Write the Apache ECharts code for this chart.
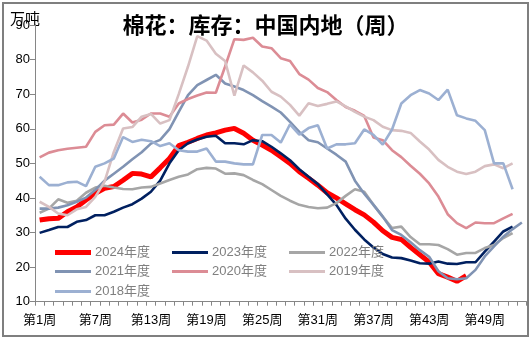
<!DOCTYPE html>
<html><head><meta charset="utf-8">
<script src="https://cdn.jsdelivr.net/npm/echarts@6/dist/echarts.min.js"></script>
<style>html,body{margin:0;padding:0;background:#fff}#c{width:531px;height:342px}</style>
</head><body><div id="c"></div>
<script>
var weeks = [];
for (var i = 1; i <= 53; i++) weeks.push('第' + i + '周');
var names = ['2024年度','2023年度','2022年度','2021年度','2020年度','2019年度','2018年度'];
var d2024 = [33.6,34.0,34.1,36,37.4,39.4,41.3,42.8,43.3,45.1,47.1,46.9,46.1,48.7,51.4,55.1,56.1,57.2,58.2,58.8,59.6,60.1,58.7,56.7,55.3,53.8,51.9,50,47.6,45.7,43.7,41.5,40,38.3,36.6,35.1,33,30.5,28.6,28,25.7,23.6,21.5,18.1,17.1,15.9,17.5];
var d2023 = [29.9,30.7,31.6,31.6,33.1,33.6,35,35,36,37.2,38.2,39.8,41.8,45,50,53.8,55.8,56.9,57.7,58,55.8,55.8,55.5,56.7,56.4,54.8,52.9,50.9,48.3,46.1,44,41,38,34,30.8,28,25.7,23.8,22.8,22.6,21.9,21.1,21,21.6,21,20.9,21.4,21.4,24.5,27.4,30.3,31.7];
var d2022 = [35.7,36.9,39.6,38.6,39.2,41.5,43,43.5,43,42.6,42.5,43,43.2,44.2,45.2,46.1,46.8,48.3,48.7,48.5,47,47.1,46.6,45.2,44,42.3,40.6,39.2,38,37.4,37,37.2,38.5,40.6,42.5,41.8,38,34.6,31.3,31.7,28.7,26.6,26.6,26.4,25.2,23.6,24.1,24.1,25.5,26.4,28.4,29.8];
var d2021 = [36.9,36.9,37.2,37.9,38.9,40.1,42.3,45,47,49,51.2,53.2,55.7,56.8,59.9,64.9,69.7,72.6,74.1,75.6,73.1,72.2,71.2,69.7,68,66.4,64.7,62,59.1,56.7,56.1,54.3,52.5,50.5,45,41.2,38,34.6,30.7,29.3,27.2,24.9,23,18.8,16.8,16.5,16.8,19.2,23.1,26,28.8,31,32.9];
var d2020 = [51.7,53.1,53.8,54.2,54.5,54.8,59.1,61,61.2,64.4,61.8,62.6,64.4,64.4,63.5,67.3,68.6,69.6,70.5,70.4,78,85.9,85.7,86.3,83.8,83.3,80.4,79.6,75.8,74.2,71.8,70.6,68.3,66.3,65.2,63.7,57.5,56.7,53.8,51.8,49.3,47,44.2,40.4,35.3,32.7,31.3,32.9,32.7,32.7,34.1,35.4];
var d2019 = [38.9,37.4,35.5,35,36.7,37.4,40.3,44.7,53.3,60.1,60.5,63.5,64.3,61.5,62.5,70,78,86.8,85.5,81.7,79.6,69.6,78.3,76.3,73.9,70.7,69.3,66.9,63.8,67.4,66.6,67.2,67.9,66.5,64.9,63.5,62.5,60.6,59.6,59.4,58.8,56.3,54,51,49,47.6,46.9,47.6,49.2,49.7,48.6,50];
var d2018 = [46.1,43.7,43.7,44.5,44.7,43.4,49,50,51.4,57.6,56.2,56.8,56.4,55,55.8,53.8,53.4,53.4,54.3,50.5,50.5,50,49.7,49.7,58.2,58.2,56,61.3,58.3,60.2,61,54.3,55.5,55.5,55.8,59.8,58.2,55.4,59.8,67.3,69.7,71.2,70.2,68.3,71.3,63.9,63,62.3,59.6,50,50,42.5];
var yTicks = {min: 10, max: 90, interval: 10};

var datas = [d2024,d2023,d2022,d2021,d2020,d2019,d2018];
var colors = ['#ff0000','#002060','#a6a6a6','#8093b3','#dc8c95','#d8c0c2','#9cb0d2'];
var widths = [5,2.6,2.6,2.6,2.6,2.6,2.6];

var series = names.map(function(n, i){
  return {name: n, type: 'line', data: datas[i], symbol: 'none', smooth: false,
    lineStyle: {color: colors[i], width: widths[i]}, itemStyle: {color: colors[i]},
    emphasis: {disabled: true}, animation: false};
});

var font = "'Liberation Sans', Arial, 'Noto Sans CJK SC', sans-serif";
var colX = [55, 172, 289];
var rowY = [251, 270, 290];
var legendPos = [[0,0],[1,0],[2,0],[0,1],[1,1],[2,1],[0,2]];
var legends = names.map(function(n, i){
  var h = i === 0 ? 5 : 3;
  return {orient: 'horizontal', left: colX[legendPos[i][0]], top: rowY[legendPos[i][1]] - 5,
    padding: 0, icon: 'rect', itemWidth: 36, itemHeight: h, data: [n], selectedMode: false,
    itemStyle: {borderWidth: 0},
    textStyle: {color: '#7f7f7f', fontSize: 13, fontFamily: font, padding: [0,0,0,-1]}};
});

var chart = echarts.init(document.getElementById('c'));
chart.setOption({
  animation: false,
  backgroundColor: '#fff',
  title: {text: '棉花：库存：中国内地（周）', left: 'center', top: 9,
    textStyle: {fontSize: 22, fontWeight: 'bold', color: '#000', fontFamily: "'Noto Sans CJK SC', sans-serif"}},
  grid: {left: 35, right: 4.5, top: 25, bottom: 40.3},
  legend: legends,
  xAxis: {type: 'category', data: weeks, boundaryGap: true,
    axisLine: {lineStyle: {color: '#868686', width: 1}},
    axisTick: {show: true, interval: 0, length: 4, lineStyle: {color: '#868686'}},
    axisLabel: {interval: 5, color: '#000', fontSize: 13, margin: 12, fontFamily: font}},
  yAxis: {type: 'value', min: yTicks.min, max: yTicks.max, interval: yTicks.interval,
    splitLine: {show: false},
    axisLine: {show: true, lineStyle: {color: '#868686', width: 1}},
    axisTick: {show: true, length: 5, lineStyle: {color: '#868686'}},
    axisLabel: {color: '#000', fontSize: 13, margin: 5, fontFamily: font}},
  graphic: [
    {type: 'rect', shape: {x: 3, y: 3, width: 525, height: 333}, style: {fill: 'none', stroke: '#7f7f7f', lineWidth: 2}, z: -1},
    {type: 'text', left: 10, top: 11, style: {text: '万吨', fill: '#000', font: "15px 'Noto Sans CJK SC', sans-serif"}}
  ],
  series: series
});
</script></body></html>
